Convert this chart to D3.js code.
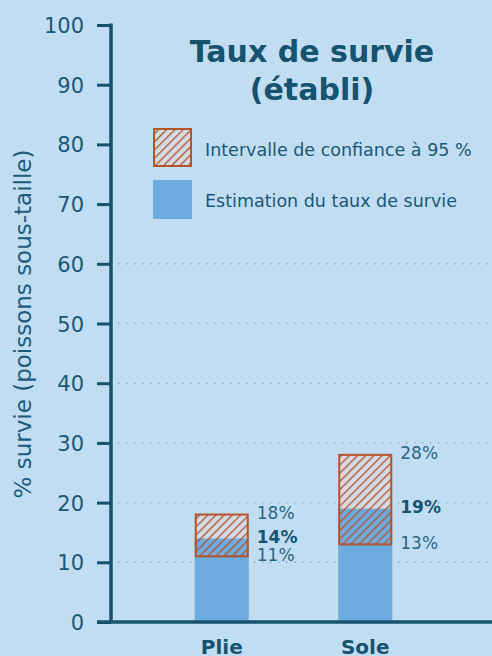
<html>
<script src='https://d3js.org/d3.v7.min.js'></script>
<style>
    body { margin: 0; background: #c1ddf1; }
    text { font-family: 'DejaVu Sans', Verdana, sans-serif; fill: #1a5877; }
</style>

<body onload='init()'>
    <svg width=492 height=656></svg>
    <script>
        // data
        const species = ['Plie', 'Sole'];
        const estimate = [14, 19];
        const ciLow = [11, 13];
        const ciHigh = [18, 28];
        const yTicks = [0, 10, 20, 30, 40, 50, 60, 70, 80, 90, 100];
        const gridTicks = [10, 20, 30, 40, 50, 60];

        function init() {
            const svg = d3.select('svg');
            const axisColor = '#15536f';
            const hatchColor = '#b5532a';
            const blue = '#6eabde';
            const pale = '#d3dce5';
            const barW = 54;

            let y = d3.scaleLinear().domain([0, 100]).range([622, 25]);
            let x = d3.scalePoint().domain(species).range([150, 437]).padding(0.5);

            // hatch pattern (lines only)
            const pat = svg.append('defs').append('pattern')
                .attr('id', 'hatch')
                .attr('patternUnits', 'userSpaceOnUse')
                .attr('width', 5.8).attr('height', 5.8)
                .attr('patternTransform', 'rotate(45)');
            pat.append('line').attr('x1', 0).attr('y1', 0).attr('x2', 0).attr('y2', 5.8)
                .attr('stroke', hatchColor).attr('stroke-width', 2.6);

            // dotted grid
            svg.append('g').selectAll('line').data(gridTicks).enter().append('line')
                .attr('x1', 118).attr('x2', 492)
                .attr('y1', d => y(d)).attr('y2', d => y(d))
                .attr('stroke', '#8ea3b3').attr('stroke-width', 1.4)
                .attr('stroke-dasharray', '1.4,6.6');

            // title
            const title = svg.append('text').attr('x', 312).attr('y', 62)
                .attr('text-anchor', 'middle').style('font-weight', 'bold')
                .style('font-size', '30px').style('fill', '#15536f');
            title.append('tspan').attr('x', 312).text('Taux de survie');
            title.append('tspan').attr('x', 312).attr('dy', 38).text('(établi)');

            // legend
            svg.append('rect').attr('x', 154).attr('y', 129).attr('width', 37).attr('height', 37)
                .attr('fill', pale);
            svg.append('rect').attr('x', 154).attr('y', 129).attr('width', 37).attr('height', 37)
                .attr('fill', 'url(#hatch)').attr('stroke', hatchColor).attr('stroke-width', 2);
            svg.append('rect').attr('x', 153).attr('y', 180).attr('width', 39).attr('height', 39)
                .attr('fill', blue);
            svg.append('text').attr('x', 205).attr('y', 156).style('font-size', '17.5px')
                .text('Intervalle de confiance à 95 %');
            svg.append('text').attr('x', 205).attr('y', 207).style('font-size', '17.5px')
                .text('Estimation du taux de survie');

            // bars
            const bars = svg.append('g');
            bars.selectAll('rect.pale').data(species).enter().append('rect')
                .attr('x', d => x(d) - barW / 2).attr('width', barW)
                .attr('y', (d, i) => y(ciHigh[i]))
                .attr('height', (d, i) => y(estimate[i]) - y(ciHigh[i]))
                .attr('fill', pale);
            bars.selectAll('rect.est').data(species).enter().append('rect')
                .attr('x', d => x(d) - barW / 2).attr('width', barW)
                .attr('y', (d, i) => y(estimate[i]))
                .attr('height', (d, i) => y(0) - y(estimate[i]))
                .attr('fill', blue);
            bars.selectAll('rect.ci').data(species).enter().append('rect')
                .attr('x', d => x(d) - barW / 2 + 1).attr('width', barW - 2)
                .attr('y', (d, i) => y(ciHigh[i]))
                .attr('height', (d, i) => y(ciLow[i]) - y(ciHigh[i]))
                .attr('fill', 'url(#hatch)')
                .attr('stroke', hatchColor).attr('stroke-width', 2);

            // value labels
            const labels = [];
            species.forEach((s, i) => {
                labels.push({ s: s, v: ciHigh[i], bold: false });
                labels.push({ s: s, v: estimate[i], bold: true });
                labels.push({ s: s, v: ciLow[i], bold: false });
            });
            svg.append('g').selectAll('text').data(labels).enter().append('text')
                .attr('x', d => x(d.s) + barW / 2 + 8)
                .attr('y', d => y(d.v) + 4.5)
                .style('font-size', '17px')
                .style('font-weight', d => d.bold ? 'bold' : 'normal')
                .style('fill', d => d.bold ? '#15536f' : '#2a6687')
                .text(d => d.v + '%');

            // y axis
            let y_axis = d3.axisLeft(y).tickValues(yTicks).tickSize(14).tickPadding(13);
            const gy = svg.append('g').attr('transform', 'translate(111,0)').call(y_axis);
            gy.select('.domain').remove();
            gy.selectAll('.tick line').attr('stroke', axisColor).attr('stroke-width', 3);
            gy.selectAll('.tick text').style('font-size', '21px').style('font-family', "'DejaVu Sans', sans-serif")
                .attr('fill', axisColor).attr('dy', '0.36em');
            svg.append('line').attr('x1', 111).attr('x2', 111).attr('y1', y(100) - 1.5).attr('y2', y(0))
                .attr('stroke', axisColor).attr('stroke-width', 3.5);

            // x axis
            svg.append('line').attr('x1', 97).attr('x2', 492).attr('y1', y(0)).attr('y2', y(0))
                .attr('stroke', axisColor).attr('stroke-width', 3.5);
            svg.append('g').selectAll('text').data(species).enter().append('text')
                .attr('x', d => x(d)).attr('y', 654)
                .attr('text-anchor', 'middle')
                .style('font-weight', 'bold').style('font-size', '20px').style('fill', '#15536f')
                .text(d => d);

            // y label
            svg.append('text')
                .attr('transform', 'translate(31,324) rotate(-90)')
                .attr('text-anchor', 'middle')
                .style('font-size', '23px').style('fill', '#1d5c7c')
                .text('% survie (poissons sous-taille)');
        }
    </script>
</body>

</html>
